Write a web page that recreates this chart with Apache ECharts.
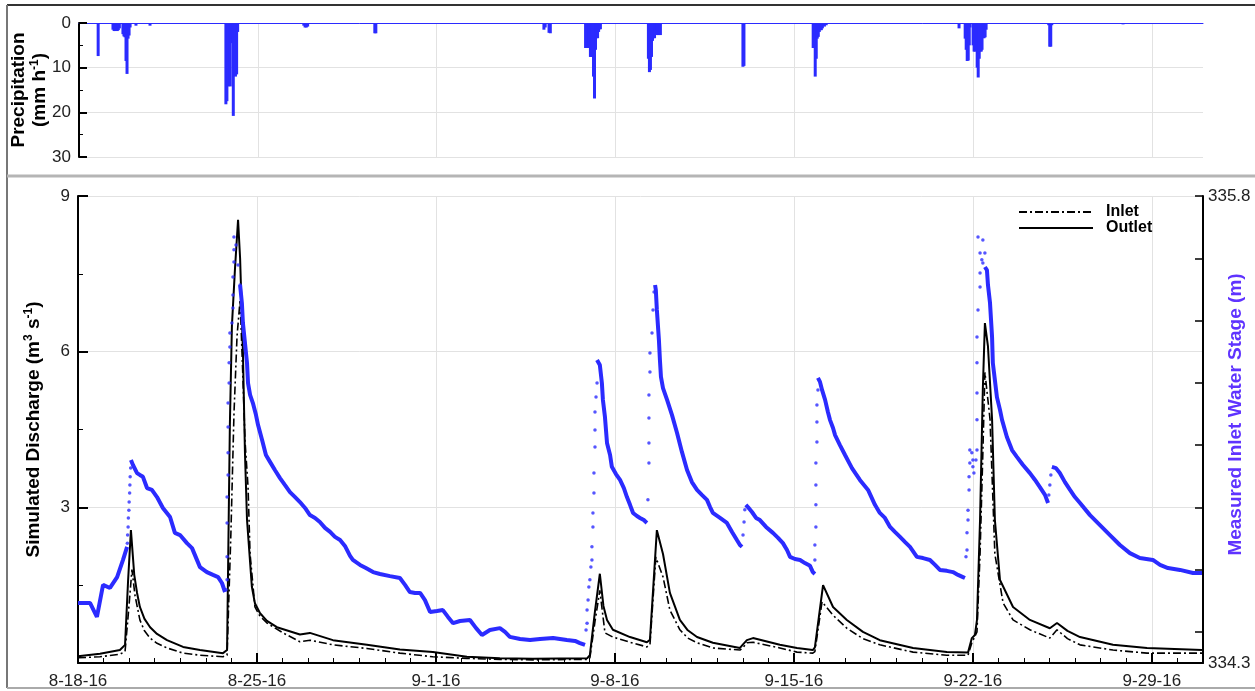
<!DOCTYPE html>
<html>
<head>
<meta charset="utf-8">
<script src="https://cdn.jsdelivr.net/npm/echarts@6/dist/echarts.min.js"></script>
<style>
  html, body { margin: 0; padding: 0; background: #fff; }
  #chart { width: 1255px; height: 691px; }
</style>
</head>
<body>
<div id="chart"></div>
<script>
// Time is counted in days from 8-18-2016 00:00.
const tickLabels = ['8-18-16', '8-25-16', '9-1-16', '9-8-16', '9-15-16', '9-22-16', '9-29-16'];

// Hourly rainfall intensity, [day, mm/h]
const precipitation = [
  [0.75, 7.4],
  [1.33, 1.5], [1.375, 1.8], [1.42, 1.8], [1.46, 1.7], [1.50, 1.8], [1.54, 1.6], [1.58, 1.2],
  [1.72, 2.5], [1.76, 3.0], [1.80, 3.2], [1.84, 8.5], [1.88, 11.4], [1.92, 3.5], [1.96, 2.8], [2.00, 1.0],
  [2.23, 0.6], [2.78, 0.6],
  [5.75, 18.2], [5.79, 17.5], [5.83, 14.2], [5.875, 14.0], [5.92, 14.2], [5.96, 4.5], [6.00, 3.5],
  [6.04, 20.8], [6.08, 10.0], [6.125, 12.0], [6.17, 11.5], [6.21, 2.0],
  [8.80, 0.6], [8.85, 1.0], [8.90, 1.0], [8.95, 0.8],
  [11.58, 2.3], [11.62, 2.3],
  [18.20, 1.5], [18.25, 1.0], [18.40, 2.2], [18.45, 2.3],
  [19.83, 5.6], [19.87, 5.6], [19.91, 5.6], [19.95, 5.4], [19.98, 5.6], [20.02, 7.6], [20.06, 7.6],
  [20.10, 7.2], [20.14, 12.0], [20.18, 16.9], [20.22, 6.0], [20.26, 3.4], [20.30, 3.4], [20.34, 2.0],
  [20.38, 1.4], [20.41, 1.4],
  [22.29, 8.0], [22.33, 11.0], [22.37, 10.5], [22.41, 7.6], [22.45, 4.0], [22.49, 3.4], [22.53, 3.4],
  [22.57, 1.5], [22.61, 1.5], [22.64, 2.7], [22.68, 2.7], [22.72, 2.6], [22.76, 2.7],
  [25.99, 9.8], [26.03, 9.6],
  [28.74, 5.6], [28.78, 5.6], [28.82, 12.0], [28.86, 8.0], [28.90, 3.5], [28.94, 3.1], [28.98, 2.0],
  [29.02, 1.6], [29.06, 1.6], [29.10, 1.2], [29.18, 0.8], [29.25, 0.5],
  [34.45, 1.2],
  [34.69, 3.5], [34.73, 6.0], [34.77, 8.5], [34.81, 8.4], [34.85, 5.0], [34.88, 1.0],
  [35.00, 5.0], [35.04, 6.4], [35.08, 6.4], [35.12, 6.2], [35.16, 10.0], [35.20, 12.2], [35.24, 8.0],
  [35.28, 6.4], [35.32, 6.4], [35.35, 6.0], [35.39, 3.4], [35.43, 3.4], [35.47, 3.2], [35.51, 1.5],
  [37.96, 0.5], [38.00, 5.3], [38.04, 5.3], [38.08, 0.5],
  [40.87, 0.3]
];

// Simulated discharge, [day, m3/s]
const inletQ = [
  [0, 0.10], [0.86, 0.12], [1.64, 0.17], [1.84, 0.22], [1.96, 0.90], [2.11, 1.80], [2.23, 1.30],
  [2.42, 0.83], [2.60, 0.62], [2.82, 0.48], [3.09, 0.38], [3.48, 0.29], [4.11, 0.19], [4.77, 0.15],
  [5.67, 0.12], [5.83, 0.15],
  [5.98, 2.50], [6.10, 4.80], [6.22, 6.30], [6.34, 7.00], [6.45, 5.50], [6.53, 4.30], [6.65, 3.40],
  [6.73, 2.10], [6.92, 1.08], [7.12, 0.90], [7.39, 0.77], [8.02, 0.58], [8.68, 0.41], [9.07, 0.44], [9.97, 0.35],
  [11.30, 0.28], [12.59, 0.19], [13.88, 0.12], [15.21, 0.09], [16.50, 0.07], [17.79, 0.06], [19.91, 0.07],
  [20.02, 0.10], [20.22, 0.80], [20.41, 1.40], [20.61, 0.58], [20.92, 0.50], [21.59, 0.40], [22.25, 0.31],
  [22.37, 0.35], [22.60, 2.04], [22.88, 1.66], [23.15, 1.02], [23.54, 0.64], [23.85, 0.48], [24.21, 0.39],
  [24.83, 0.29], [25.89, 0.25], [26.01, 0.30], [26.16, 0.39], [26.40, 0.40], [27.45, 0.29], [28.12, 0.21],
  [28.74, 0.19], [28.82, 0.22], [29.10, 1.18], [29.53, 0.92], [30.07, 0.67], [30.70, 0.47], [31.36, 0.35],
  [32.66, 0.21], [33.98, 0.15], [34.81, 0.15], [34.96, 0.39], [35.16, 0.60], [35.28, 2.10], [35.39, 4.05],
  [35.47, 5.60], [35.67, 4.70], [35.86, 2.10], [36.18, 1.16], [36.57, 0.83], [37.23, 0.64], [38.01, 0.48],
  [38.29, 0.64], [38.70, 0.47], [39.19, 0.35], [40.48, 0.25], [41.81, 0.19], [43.96, 0.19]
];

const outletQ = [
  [0, 0.13], [0.86, 0.18], [1.64, 0.25], [1.84, 0.35], [1.96, 1.60], [2.07, 2.56], [2.20, 1.70],
  [2.31, 1.35], [2.42, 1.08], [2.60, 0.85], [2.82, 0.69], [3.09, 0.56], [3.48, 0.44], [4.11, 0.31],
  [4.77, 0.25], [5.67, 0.19], [5.83, 0.25],
  [5.94, 4.60], [6.02, 6.50], [6.14, 7.60], [6.26, 8.54], [6.34, 7.80], [6.45, 6.00], [6.53, 4.05],
  [6.61, 2.76], [6.80, 1.47], [6.92, 1.15], [7.12, 0.96], [7.39, 0.81], [7.78, 0.69], [8.68, 0.55],
  [9.07, 0.58], [9.97, 0.44], [11.30, 0.35], [12.59, 0.26], [13.88, 0.21], [15.21, 0.12], [16.50, 0.09],
  [17.79, 0.08], [19.91, 0.09], [20.02, 0.15], [20.22, 1.00], [20.41, 1.72], [20.55, 1.10], [20.69, 0.83],
  [20.92, 0.64], [21.59, 0.50], [22.25, 0.40], [22.37, 0.45], [22.64, 2.56], [22.88, 2.10], [23.15, 1.35],
  [23.54, 0.83], [23.85, 0.63], [24.21, 0.50], [24.83, 0.39], [25.89, 0.29], [26.01, 0.36], [26.16, 0.44],
  [26.40, 0.48], [27.45, 0.35], [28.12, 0.29], [28.74, 0.25], [28.82, 0.30], [29.14, 1.50], [29.53, 1.08],
  [30.07, 0.83], [30.70, 0.60], [31.36, 0.44], [32.66, 0.29], [33.98, 0.21], [34.81, 0.20], [34.96, 0.48],
  [35.08, 0.54], [35.16, 0.83], [35.28, 2.76], [35.39, 5.30], [35.47, 6.55], [35.59, 6.10], [35.75, 4.70],
  [35.86, 2.76], [36.06, 1.60], [36.57, 1.08], [37.23, 0.83], [38.01, 0.67], [38.29, 0.77], [38.70, 0.62],
  [39.19, 0.50], [40.48, 0.35], [41.81, 0.29], [43.96, 0.25]
];

// Measured inlet water stage (m): continuous recorder traces between storm rises
const stageTraces = [
  [[0, 334.493], [0.47, 334.493], [0.74, 334.448], [0.98, 334.551], [1.25, 334.541], [1.53, 334.576],
   [1.76, 334.631], [1.92, 334.673]],
  [[2.07, 334.952], [2.15, 334.936], [2.31, 334.910], [2.42, 334.904], [2.54, 334.898], [2.70, 334.862],
   [2.89, 334.856], [3.09, 334.833], [3.32, 334.798], [3.60, 334.769], [3.79, 334.718], [3.99, 334.711],
   [4.26, 334.685], [4.46, 334.669], [4.77, 334.608], [5.04, 334.592], [5.28, 334.583], [5.48, 334.576],
   [5.63, 334.557], [5.75, 334.528]],
  [[6.34, 335.514], [6.41, 335.456], [6.45, 335.392], [6.53, 335.328], [6.61, 335.264], [6.65, 335.199],
   [6.73, 335.161], [6.84, 335.135], [6.96, 335.097], [7.04, 335.065], [7.20, 335.016], [7.35, 334.968],
   [7.51, 334.946], [7.70, 334.920], [7.90, 334.894], [8.09, 334.872], [8.29, 334.849], [8.49, 334.833],
   [8.68, 334.817], [8.88, 334.798], [9.07, 334.775], [9.27, 334.766], [9.46, 334.753], [9.66, 334.734],
   [9.86, 334.721], [10.05, 334.705], [10.25, 334.695], [10.44, 334.676], [10.64, 334.644], [10.75, 334.631],
   [11.03, 334.615], [11.26, 334.605], [11.54, 334.592], [11.81, 334.586], [12.20, 334.579], [12.59, 334.573],
   [12.79, 334.551], [12.98, 334.528], [13.18, 334.525], [13.38, 334.525], [13.57, 334.502], [13.77, 334.464],
   [14.04, 334.467], [14.27, 334.470], [14.47, 334.448], [14.67, 334.428], [14.94, 334.435], [15.33, 334.438],
   [15.57, 334.412], [15.80, 334.390], [16.11, 334.406], [16.50, 334.412], [16.70, 334.400], [16.89, 334.384],
   [17.29, 334.377], [17.68, 334.374], [18.07, 334.377], [18.58, 334.380], [18.85, 334.377], [19.12, 334.374],
   [19.44, 334.371], [19.63, 334.364], [19.83, 334.358]],
  [[20.30, 335.273], [20.41, 335.257], [20.49, 335.199], [20.53, 335.145], [20.61, 335.090], [20.69, 335.007],
   [20.81, 334.968], [20.88, 334.930], [21.04, 334.907], [21.20, 334.888], [21.35, 334.862], [21.47, 334.833],
   [21.59, 334.808], [21.71, 334.782], [21.86, 334.772], [21.98, 334.766], [22.13, 334.759], [22.25, 334.750]],
  [[22.57, 335.514], [22.60, 335.498], [22.64, 335.434], [22.72, 335.338], [22.76, 335.273], [22.80, 335.219],
   [22.88, 335.183], [23.04, 335.145], [23.23, 335.097], [23.43, 335.039], [23.62, 334.978], [23.82, 334.920],
   [24.01, 334.881], [24.21, 334.856], [24.40, 334.840], [24.60, 334.824], [24.72, 334.801], [24.83, 334.782],
   [25.11, 334.766], [25.38, 334.750], [25.58, 334.721], [25.77, 334.695], [25.89, 334.679], [25.97, 334.673]],
  [[26.12, 334.808], [26.20, 334.801], [26.36, 334.785], [26.52, 334.766], [26.67, 334.759], [26.91, 334.737],
   [27.18, 334.718], [27.38, 334.702], [27.57, 334.685], [27.73, 334.663], [27.85, 334.641], [28.04, 334.634],
   [28.24, 334.631], [28.43, 334.621], [28.63, 334.612], [28.74, 334.592], [28.82, 334.586]],
  [[28.94, 335.216], [29.02, 335.203], [29.10, 335.177], [29.22, 335.145], [29.33, 335.106], [29.41, 335.081],
   [29.53, 335.055], [29.61, 335.032], [29.80, 335.000], [30.00, 334.968], [30.27, 334.926], [30.58, 334.888],
   [30.90, 334.856], [31.17, 334.808], [31.36, 334.782], [31.56, 334.766], [31.76, 334.737], [31.95, 334.721],
   [32.15, 334.705], [32.34, 334.689], [32.54, 334.673], [32.81, 334.641], [33.05, 334.637], [33.32, 334.631],
   [33.52, 334.615], [33.71, 334.599], [33.98, 334.596], [34.22, 334.592], [34.42, 334.583], [34.61, 334.576],
   [34.69, 334.573]],
  [[35.47, 335.572], [35.55, 335.562], [35.59, 335.514], [35.67, 335.456], [35.75, 335.347], [35.78, 335.264],
   [35.86, 335.209], [35.94, 335.154], [36.06, 335.113], [36.14, 335.081], [36.33, 335.026], [36.53, 334.984],
   [36.72, 334.962], [36.96, 334.936], [37.23, 334.910], [37.43, 334.888], [37.62, 334.865], [37.82, 334.840],
   [37.94, 334.814]],
  [[38.09, 334.930], [38.25, 334.926], [38.40, 334.910], [38.60, 334.881], [38.80, 334.856], [38.99, 334.833],
   [39.19, 334.814], [39.58, 334.775], [39.97, 334.743], [40.36, 334.711], [40.75, 334.679], [41.14, 334.653],
   [41.53, 334.637], [42.04, 334.631], [42.32, 334.615], [42.63, 334.605], [43.10, 334.599], [43.61, 334.589],
   [43.96, 334.589]]
];

// Individual stage readings on the fast rising limbs
const stageRiseDots = [
  [1.93, 334.685], [1.94, 334.711], [1.96, 334.737], [1.97, 334.766], [1.99, 334.791], [2.00, 334.817],
  [2.02, 334.846], [2.03, 334.872], [2.04, 334.898], [2.06, 334.926],
  [5.79, 334.535], [5.83, 334.567], [5.83, 334.641], [5.83, 334.750], [5.83, 334.833], [5.87, 334.904],
  [5.87, 334.975], [5.87, 335.058], [5.87, 335.135], [5.91, 335.199], [5.91, 335.264], [5.94, 335.315],
  [5.94, 335.360], [6.02, 335.392], [6.06, 335.440], [6.06, 335.482], [6.06, 335.540], [6.10, 335.588],
  [6.10, 335.627], [6.10, 335.668], [6.18, 335.643], [6.26, 335.578], [6.34, 335.514],
  [19.87, 334.406], [19.91, 334.428], [19.91, 334.470], [19.95, 334.502], [19.98, 334.544], [20.02, 334.567],
  [20.06, 334.608], [20.10, 334.631], [20.10, 334.673], [20.14, 334.737], [20.14, 334.782], [20.18, 334.846],
  [20.18, 334.910], [20.22, 334.994], [20.22, 335.048], [20.22, 335.106], [20.26, 335.154], [20.30, 335.199],
  [22.29, 334.824], [22.33, 334.942], [22.33, 335.007], [22.33, 335.087], [22.33, 335.161], [22.37, 335.235],
  [22.37, 335.296], [22.45, 335.360], [22.49, 335.434], [22.53, 335.492],
  [26.01, 334.711], [26.05, 334.753], [26.08, 334.792],
  [28.82, 334.631], [28.82, 334.679], [28.86, 334.737], [28.86, 334.808], [28.86, 334.872], [28.86, 334.942],
  [28.90, 335.010], [28.90, 335.074], [28.90, 335.129], [28.94, 335.177],
  [34.73, 334.641], [34.77, 334.663], [34.77, 334.718], [34.81, 334.759], [34.81, 334.791], [34.85, 334.856],
  [34.85, 334.898], [34.88, 334.942], [34.88, 334.984], [34.96, 334.975], [35.00, 334.930], [35.00, 334.952],
  [35.04, 334.910], [35.12, 334.952], [35.16, 334.984], [35.16, 335.081], [35.16, 335.167], [35.16, 335.264],
  [35.16, 335.347], [35.20, 335.434], [35.28, 335.508], [35.28, 335.553], [35.28, 335.617], [35.20, 335.668],
  [35.35, 335.595], [35.39, 335.659], [35.39, 335.585], [35.47, 335.617],
  [37.97, 334.840], [38.01, 334.872], [38.05, 334.904]
];

const stageTicks = [334.3, 334.4, 334.6, 334.8, 335.0, 335.2, 335.4, 335.6, 335.8];
const stageLabels = [334.3, 335.8];

const FONT = '"Liberation Sans", Arial, sans-serif';
const BLUE = '#2b2bff';
const STAGE_TITLE = '#5f33ff';
const GRID_GREY = '#e2e2e2';
const supRich = {
  sup: { fontSize: 12, fontWeight: 'bold', fontFamily: FONT, color: '#000', verticalAlign: 'top', lineHeight: 21 }
};

const chart = echarts.init(document.getElementById('chart'), null, { renderer: 'canvas' });

const stageLineSeries = stageTraces.map(seg => ({
  type: 'line', xAxisIndex: 1, yAxisIndex: 2, data: seg,
  symbol: 'none', silent: true, z: 4,
  lineStyle: { color: BLUE, width: 4 }
}));

chart.setOption({
  backgroundColor: '#fff',
  animation: false,
  textStyle: { fontFamily: FONT },
  grid: [
    { left: 79, top: 23, width: 1124, height: 134, outerBoundsMode: 'none', containLabel: false },
    { left: 78, top: 196, width: 1125, height: 467, outerBoundsMode: 'none', containLabel: false }
  ],
  legend: {
    data: ['Inlet', 'Outlet'],
    orient: 'vertical',
    left: 1018, top: 204,
    padding: 0,
    itemWidth: 74, itemHeight: 14, itemGap: 0,
    itemStyle: { opacity: 0 },
    textStyle: { fontSize: 16, fontWeight: 'bold', color: '#000', fontFamily: FONT, lineHeight: 14, padding: [0, 0, 0, 8] }
  },
  xAxis: [
    {
      gridIndex: 0, type: 'value', min: 0, max: 44, interval: 7, position: 'top',
      axisLine: { show: true, onZero: false, lineStyle: { color: BLUE, width: 1 } },
      axisTick: { show: false }, axisLabel: { show: false },
      splitLine: { show: true, showMinLine: false, showMaxLine: false, lineStyle: { color: GRID_GREY, width: 1 } }
    },
    {
      gridIndex: 1, type: 'value', min: 0, max: 44, interval: 7, position: 'bottom',
      axisLine: { show: true, onZero: false, lineStyle: { color: '#000', width: 2 } },
      axisTick: { show: true, inside: true, length: 10, lineStyle: { color: '#000', width: 2 } },
      axisLabel: {
        fontSize: 17, color: '#222', margin: 10,
        formatter: v => (v % 7 === 0 ? tickLabels[v / 7] : '')
      },
      splitLine: { show: true, lineStyle: { color: GRID_GREY, width: 1 } }
    },
    {
      gridIndex: 1, type: 'value', min: 0, max: 44, interval: 1, position: 'bottom',
      axisLine: { show: false },
      axisTick: { show: true, inside: true, length: 5, lineStyle: { color: '#000', width: 1 } },
      axisLabel: { show: false }, splitLine: { show: false }
    }
  ],
  yAxis: [
    {
      gridIndex: 0, type: 'value', inverse: true, min: 0, max: 30, interval: 10,
      axisLine: { show: true, lineStyle: { color: '#000', width: 2 } },
      axisTick: { show: true, inside: true, length: 8, lineStyle: { color: '#000', width: 2 } },
      minorTick: { show: true, splitNumber: 2, length: 4, lineStyle: { color: '#000', width: 1 } },
      axisLabel: { fontSize: 17, color: '#222', margin: 8 },
      splitLine: { show: true, lineStyle: { color: GRID_GREY, width: 1 } },
      name: 'Precipitation\n(mm h{sup|-1})',
      nameLocation: 'middle', nameRotate: 90, nameGap: 29, nameMoveOverlap: false,
      nameTextStyle: { fontSize: 19, fontWeight: 'bold', color: '#000', lineHeight: 21, rich: supRich }
    },
    {
      gridIndex: 1, type: 'value', min: 0, max: 9, interval: 3, position: 'left',
      axisLine: { show: true, onZero: false, lineStyle: { color: '#000', width: 2 } },
      axisTick: { show: true, inside: true, length: 10, lineStyle: { color: '#000', width: 2 } },
      minorTick: { show: true, splitNumber: 2, length: 5, lineStyle: { color: '#000', width: 1 } },
      axisLabel: { fontSize: 17, color: '#222', margin: 8, formatter: v => (v === 0 ? '' : String(v)) },
      splitLine: { show: true, lineStyle: { color: GRID_GREY, width: 1 } },
      name: 'Simulated Discharge (m{sup|3} s{sup|-1})',
      nameLocation: 'middle', nameRotate: 90, nameGap: 34, nameMoveOverlap: false,
      nameTextStyle: { fontSize: 19, fontWeight: 'bold', color: '#000', lineHeight: 21, rich: supRich }
    },
    {
      gridIndex: 1, type: 'value', min: 334.3, max: 335.8, position: 'right',
      axisLine: { show: true, onZero: false, lineStyle: { color: '#000', width: 2 } },
      axisTick: { show: true, inside: true, length: 8, customValues: stageTicks, lineStyle: { color: '#000', width: 1.5 } },
      axisLabel: { fontSize: 17, color: '#222', margin: 5, customValues: stageLabels, formatter: v => v.toFixed(1) },
      splitLine: { show: false },
      name: 'Measured Inlet Water Stage (m)',
      nameLocation: 'middle', nameRotate: 90, nameGap: 22, nameMoveOverlap: false,
      nameTextStyle: { fontSize: 19, fontWeight: 'bold', color: STAGE_TITLE, lineHeight: 21, padding: [0, 0, 0, 30] }
    }
  ],
  graphic: [
    { type: 'line', silent: true, shape: { x1: 7, y1: 5, x2: 1255, y2: 5 }, style: { stroke: '#333', lineWidth: 2 } },
    { type: 'line', silent: true, shape: { x1: 7, y1: 5, x2: 7, y2: 688 }, style: { stroke: '#777', lineWidth: 2 } },
    { type: 'line', silent: true, shape: { x1: 7, y1: 176, x2: 1255, y2: 176 }, style: { stroke: '#b5b5b5', lineWidth: 3 } },
    { type: 'line', silent: true, shape: { x1: 7, y1: 688, x2: 1255, y2: 688 }, style: { stroke: '#aaa', lineWidth: 2 } }
  ],
  series: [
    {
      type: 'bar', xAxisIndex: 0, yAxisIndex: 0, data: precipitation,
      barWidth: 3, barGap: '-100%', silent: true,
      itemStyle: { color: BLUE }
    },
    {
      name: 'Inlet', type: 'line', xAxisIndex: 1, yAxisIndex: 1, data: inletQ,
      symbol: 'none', z: 3,
      lineStyle: { color: '#000', width: 1.6, type: [8, 3, 2, 3] }
    },
    {
      name: 'Outlet', type: 'line', xAxisIndex: 1, yAxisIndex: 1, data: outletQ,
      symbol: 'none', z: 3,
      lineStyle: { color: '#000', width: 2 }
    },
    ...stageLineSeries,
    {
      type: 'scatter', xAxisIndex: 1, yAxisIndex: 2, data: stageRiseDots,
      symbolSize: 3.5, silent: true, z: 4,
      itemStyle: { color: BLUE }
    }
  ]
});
</script>
</body>
</html>
